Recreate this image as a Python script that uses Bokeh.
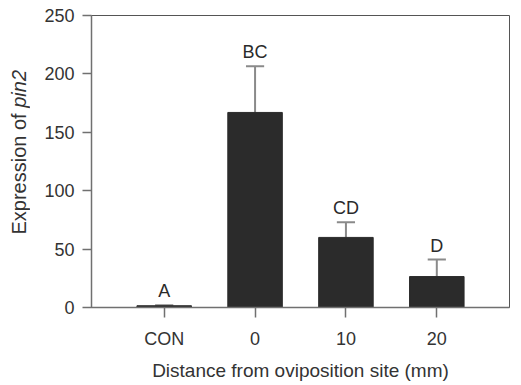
import math
from bokeh.plotting import figure
from bokeh.layouts import row
from bokeh.models import ColumnDataSource, FixedTicker, Range1d
from bokeh.core.properties import value
from bokeh.embed import file_html
from bokeh.resources import INLINE

# data
categories = ["CON", "0", "10", "20"]
means = [1.5, 167, 60, 26.5]
errors = [0.5, 39.5, 13, 14.5]
letters = ["A", "BC", "CD", "D"]
y_ticks = [0, 50, 100, 150, 200, 250]
y_title_parts = ["Expression of ", "pin2"]
y_title_styles = ["normal", "italic"]

FONT = "Liberation Sans"
LW = 30  # width of the y-title strip
FRAME_H = 292
xs = list(range(len(categories)))
tops = [m + e for m, e in zip(means, errors)]

src = ColumnDataSource(dict(x=xs, mean=means, top=tops, cl=[x - 0.1 for x in xs],
                            cr=[x + 0.1 for x in xs], lab=letters))

p = figure(width=521 - LW, height=385, output_backend="svg", toolbar_location=None,
           x_range=Range1d(-0.8, 3.8), y_range=Range1d(0, 250),
           min_border_left=91 - LW, min_border_right=12, min_border_top=15, min_border_bottom=78)

p.grid.visible = False
p.background_fill_color = "white"
p.border_fill_color = "white"
p.outline_line_color = "#555555"
p.outline_line_width = 1

# error bars (upper only)
p.segment(x0="x", y0="mean", x1="x", y1="top", source=src, line_color="#8a8a8a", line_width=2)
p.segment(x0="cl", y0="top", x1="cr", y1="top", source=src, line_color="#8a8a8a", line_width=2)
# bars
p.vbar(x="x", top="mean", bottom=0, width=0.6, source=src, fill_color="#2b2b2b",
       line_color="#2b2b2b")
# letters
p.text(x="x", y="top", text="lab", source=src, text_align="center", text_baseline="alphabetic",
       y_offset=-14, text_font=value(FONT), text_font_size="18px", text_color="#2a2a2a")

for ax in (p.xaxis[0], p.yaxis[0]):
    ax.axis_line_color = "#707070"
    ax.axis_line_width = 1.5
    ax.major_tick_line_color = "#707070"
    ax.major_tick_line_width = 1.5
    ax.minor_tick_line_color = None
    ax.major_tick_in = 0
    ax.major_label_text_font = FONT
    ax.major_label_text_font_size = "18px"
    ax.major_label_text_color = "#333333"
    ax.major_label_standoff = 8

p.yaxis.ticker = FixedTicker(ticks=y_ticks)
p.yaxis.major_tick_out = 9
p.xaxis.ticker = FixedTicker(ticks=xs)
p.xaxis.major_label_overrides = {i: c for i, c in enumerate(categories)}
p.xaxis.major_tick_out = 10
p.xaxis.major_label_standoff = 11
p.xaxis.axis_label = "Distance from oviposition site (mm)"
p.xaxis.axis_label_text_font = FONT
p.xaxis.axis_label_text_font_size = "19px"
p.xaxis.axis_label_text_font_style = "normal"
p.xaxis.axis_label_text_color = "#333333"
p.xaxis.axis_label_standoff = 8

# y-axis title strip; its frame is aligned with the main frame (pixels up from the x axis)
t = figure(width=LW, height=385, output_backend="svg", toolbar_location=None,
           x_range=Range1d(0, LW), y_range=Range1d(0, FRAME_H),
           min_border_left=0, min_border_right=0, min_border_top=15, min_border_bottom=78)
t.axis.visible = False
t.grid.visible = False
t.outline_line_color = None
t.background_fill_color = "white"
t.border_fill_color = "white"
start = 73
t.text(x=[18], y=[start], text=[y_title_parts[0]], angle=math.pi / 2,
       text_align="left", text_baseline="middle", text_font=value(FONT),
       text_font_size="20px", text_font_style=y_title_styles[0], text_color="#333333")
t.text(x=[18], y=[start + 126.7], text=[y_title_parts[1]], angle=math.pi / 2,
       text_align="left", text_baseline="middle", text_font=value(FONT),
       text_font_size="20px", text_font_style=y_title_styles[1], text_color="#333333")

layout = row(t, p, spacing=0)
open("out.html", "w").write(file_html(layout, INLINE))
